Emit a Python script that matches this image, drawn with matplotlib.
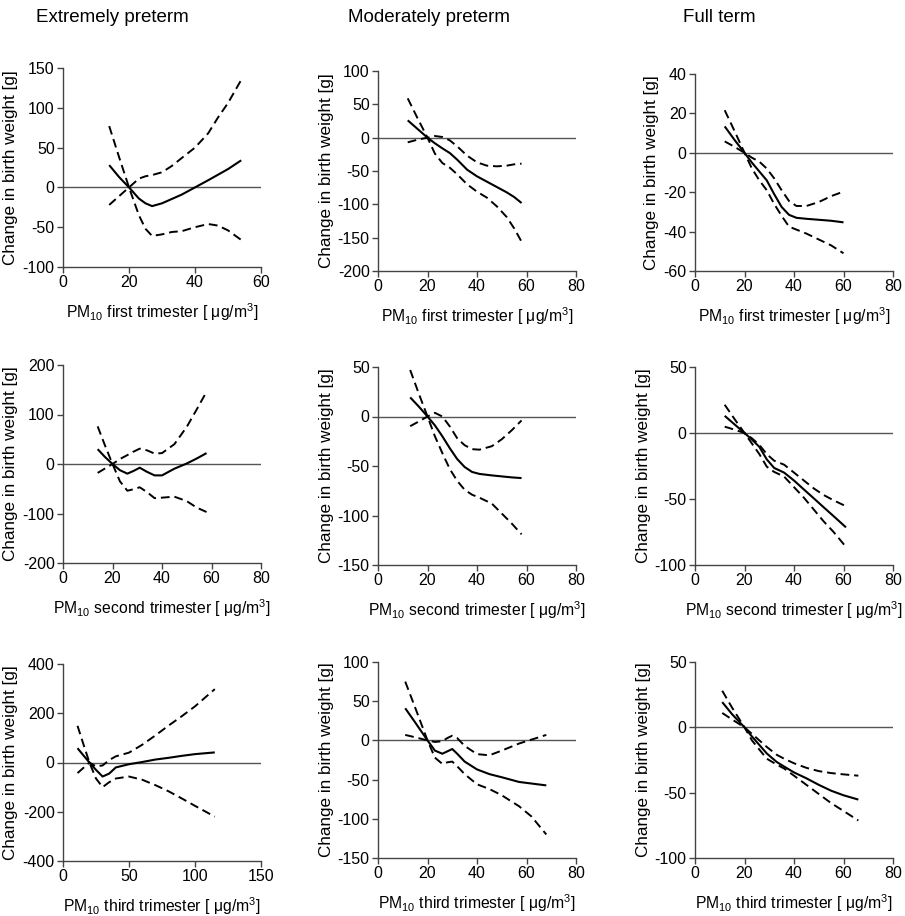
import matplotlib
matplotlib.use('Agg')
import matplotlib.pyplot as plt
import numpy as np

plt.rcParams['font.family'] = ['Liberation Sans', 'DejaVu Sans']
plt.rcParams['mathtext.default'] = 'regular'
plt.rcParams['axes.unicode_minus'] = False

# column titles and x labels
col_titles = ['Extremely preterm', 'Moderately preterm', 'Full term']
trimesters = ['first', 'second', 'third']

# --- data (x = PM10, mid = estimate, hi/lo = dashed bounds) ---
# row 1: first trimester
ep1_x = [14, 17, 20, 23, 25, 27, 30, 33, 36, 40, 44, 47, 50, 54]
ep1_mid = [28, 13, 0, -14, -20, -23.5, -20, -14.5, -9, 0, 9, 16, 23, 34]
ep1_hi = [-22, -11, 0, 11, 14, 15.5, 19, 27, 37, 50, 68, 88, 106, 135]
ep1_lo = [77, 38, 0, -35, -52, -61, -59, -56, -55, -50, -46, -48, -54, -66]

mp1_x = [12, 16, 20, 23, 26, 29, 32, 36, 40, 44, 48, 52, 55, 58]
mp1_mid = [26, 13, 0, -8.5, -16, -23, -33, -48, -58, -66, -74, -82, -89, -98]
mp1_hi = [-7, -3, 0, 2.5, 1, -4, -13, -27, -37, -42, -43, -42, -40, -39]
mp1_lo = [59, 29, 0, -24, -38, -45, -55, -70, -81, -90, -103, -119, -136, -156]

ft1_x = [12, 16, 20, 23, 26, 29, 32, 35, 38, 41, 45, 50, 55, 60]
ft1_mid = [13.4, 6.5, 0, -5, -9.5, -14, -21, -27.5, -31.5, -33, -33.5, -34, -34.5, -35.3]
ft1_hi = [5.8, 3, 0, -2.5, -4.5, -8, -13, -19, -24.5, -27, -27, -25, -22, -19.7]
ft1_lo = [21.6, 11, 0, -8, -14, -19, -26, -32, -37.5, -39, -41, -44, -47, -51]

# row 2: second trimester
ep2_x = [14, 17, 20, 23, 26, 28.5, 31, 34, 37, 40, 45, 50, 54, 58]
ep2_mid = [30, 14, 0, -12.5, -19.5, -14, -7.5, -16, -23, -23, -9.5, 1, 11, 22]
ep2_hi = [-18, -9, 0, 10, 18, 25, 31, 27.5, 21, 22, 40, 75, 110, 146]
ep2_lo = [76, 37, 0, -35, -54, -51, -47, -57, -69, -68, -66, -75, -88, -97]

mp2_x = [13, 16.5, 20, 23, 26, 29, 32, 35, 38, 41, 46, 50, 54, 58]
mp2_mid = [19.3, 10, 0, -9, -20, -32, -43, -51, -56, -58, -59.5, -60.5, -61.5, -62.2]
mp2_hi = [-9.8, -5, 0, 3.7, 0, -10, -22, -29, -33, -33.5, -30, -23, -14, -4]
mp2_lo = [47, 23, 0, -20, -37, -53, -65, -74, -79, -82, -88, -98, -108, -119]

ft2_x = [12, 16, 20, 23, 26, 29, 32, 36, 40, 44, 48, 52, 56, 61]
ft2_mid = [13, 6.5, 0, -5, -10.5, -20, -26.5, -30, -36, -42.8, -49.5, -56.3, -63, -71.5]
ft2_hi = [4.8, 2.5, 0, -4, -9, -16, -21, -24, -30, -36, -42, -47, -51, -55.5]
ft2_lo = [21.4, 10.5, 0, -8, -16, -25.5, -29.5, -33, -41, -49, -58, -67, -75, -86.3]

# row 3: third trimester
ep3_x = [11, 15, 20, 25, 30, 35, 40, 50, 60, 70, 80, 90, 100, 115]
ep3_mid = [58, 32, 0, -30, -57, -45, -20, -7, 2, 12, 19, 27, 34, 41]
ep3_hi = [-43, -24, 0, -16, -12, 10, 25, 40, 72, 110, 150, 188, 228, 298]
ep3_lo = [149, 82, 0, -65, -100, -80, -65, -57, -70, -92, -117, -146, -176, -220]

mp3_x = [11, 15, 20, 23, 26, 28, 30, 32, 35, 40, 45, 50, 57, 62, 68]
mp3_mid = [41, 23, 0, -13, -17, -14, -11, -17, -27, -37, -43, -47, -53, -55, -57.4]
mp3_hi = [7, 4, 0, -2, -1, 3, 6, 3, -7, -17.5, -19, -13, -4, 1, 7]
mp3_lo = [75, 42, 0, -22, -30, -28, -27, -33, -43, -56, -62, -70, -84, -97, -120]

ft3_x = [11, 15, 20, 23, 26, 29, 33, 36, 40, 45, 50, 55, 60, 66]
ft3_mid = [19.3, 10, 0, -7, -13.5, -20, -26.5, -30, -34.5, -39, -44, -48.5, -52, -55.3]
ft3_hi = [11, 6, 0, -5, -10, -15, -21, -24, -27.5, -31, -33.5, -35, -36, -37]
ft3_lo = [28, 15, 0, -10, -17, -24, -28.5, -31.5, -37, -44, -51, -58, -64, -71.3]

panels = [
    [(ep1_x, ep1_mid, ep1_hi, ep1_lo), (mp1_x, mp1_mid, mp1_hi, mp1_lo), (ft1_x, ft1_mid, ft1_hi, ft1_lo)],
    [(ep2_x, ep2_mid, ep2_hi, ep2_lo), (mp2_x, mp2_mid, mp2_hi, mp2_lo), (ft2_x, ft2_mid, ft2_hi, ft2_lo)],
    [(ep3_x, ep3_mid, ep3_hi, ep3_lo), (mp3_x, mp3_mid, mp3_hi, mp3_lo), (ft3_x, ft3_mid, ft3_hi, ft3_lo)],
]

# axis ranges: (xmax, xstep, ymin, ymax, ystep)
ranges = [
    [(60, 20, -100, 150, 50), (80, 20, -200, 100, 50), (80, 20, -60, 40, 20)],
    [(80, 20, -200, 200, 100), (80, 20, -150, 50, 50), (80, 20, -100, 50, 50)],
    [(150, 50, -400, 400, 200), (80, 20, -150, 100, 50), (80, 20, -100, 50, 50)],
]

# axes boxes in pixels (left, top, right, bottom)
W, H = 905, 916
col_px = [(63, 261), (378, 576), (695, 893)]
row_px = [
    [(68, 267), (71, 271), (74, 271)],
    [(365, 563), (367, 565), (367, 565)],
    [(664, 861), (662, 858), (662, 858)],
]

fig = plt.figure(figsize=(W / 100, H / 100), dpi=100)

title_x = [112, 429, 719]
for c, t in enumerate(col_titles):
    fig.text(title_x[c] / W, 1 - 17 / H, t, ha='center', va='center', fontsize=13.5)

for r in range(3):
    for c in range(3):
        l, rr = col_px[c]
        t, b = row_px[r][c]
        ax = fig.add_axes([l / W, 1 - b / H, (rr - l) / W, (b - t) / H])
        x, mid, hi, lo = panels[r][c]
        xmax, xstep, ymin, ymax, ystep = ranges[r][c]

        ax.axhline(0, color='#555555', lw=1.0, zorder=1)
        ax.plot(x, mid, color='black', lw=1.5, solid_capstyle='butt')
        ax.plot(x, hi, color='black', lw=1.4, dashes=(4.5, 2.5))
        ax.plot(x, lo, color='black', lw=1.4, dashes=(4.5, 2.5))

        ax.set_xlim(0, xmax)
        ax.set_ylim(ymin, ymax)
        ax.set_xticks(np.arange(0, xmax + 1, xstep))
        ax.set_yticks(np.arange(ymin, ymax + 1, ystep))
        for s in ['top', 'right']:
            ax.spines[s].set_visible(False)
        for s in ['left', 'bottom']:
            ax.spines[s].set_color('#444444')
            ax.spines[s].set_linewidth(1.0)
        ax.tick_params(direction='out', length=4, width=1.0, color='#444444',
                       labelsize=11.5, pad=2)
        ax.set_ylabel('Change in birth weight [g]', fontsize=12.3, labelpad=3)
        ax.set_xlabel('PM$_{10}$ ' + trimesters[r] + ' trimester [ μg/m$^{3}$]',
                      fontsize=11.3, labelpad=8)

fig.savefig('out.png', dpi=100)
